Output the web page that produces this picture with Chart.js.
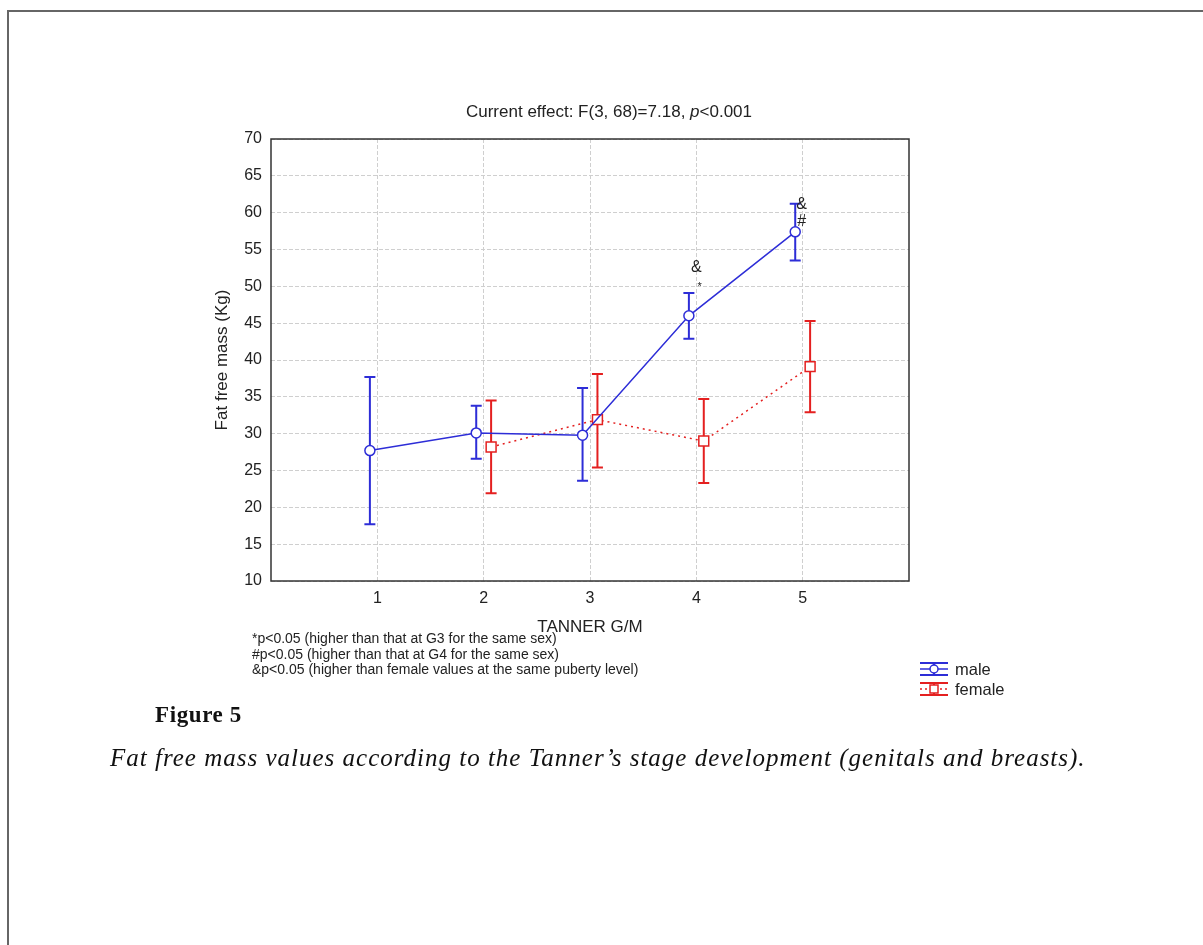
<!DOCTYPE html>
<html>
<head>
<meta charset="utf-8">
<script src="https://cdn.jsdelivr.net/npm/chart.js@4"></script>
<style>
  html, body { margin: 0; padding: 0; background: #fff; }
  body { width: 1203px; height: 945px; position: relative; overflow: hidden; }
  #frame { position: absolute; left: 7px; top: 10px; width: 1200px; height: 940px;
           border-top: 2px solid #666; border-left: 2px solid #666; }
  #chart { position: absolute; left: 0; top: 0; }
  .txt { position: absolute; font-family: "Liberation Sans", Arial, sans-serif; color: #222; white-space: nowrap; }
  #title { left: 0; width: 1218px; top: 102px; text-align: center; font-size: 17px; }
  #notes { left: 252px; top: 631px; font-size: 14px; line-height: 15.5px; }
  #figlabel { position: absolute; left: 155px; top: 702px; font-family: "Liberation Serif", serif;
              font-weight: bold; font-size: 23px; letter-spacing: 0.6px; color: #111; }
  #caption { position: absolute; left: 110px; top: 744px; font-family: "Liberation Serif", serif;
             font-style: italic; font-size: 25px; letter-spacing: 1px; color: #111; white-space: nowrap; }
</style>
</head>
<body>
<div id="frame"></div>
<canvas id="chart" width="1203" height="945"></canvas>
<div class="txt" id="title">Current effect: F(3, 68)=7.18, <i>p</i>&lt;0.001</div>
<div class="txt" id="notes">*p&lt;0.05 (higher than that at G3 for the same sex)<br>#p&lt;0.05 (higher than that at G4 for the same sex)<br>&amp;p&lt;0.05 (higher than female values at the same puberty level)</div>
<div id="figlabel">Figure 5</div>
<div id="caption">Fat free mass values according to the Tanner’s stage development (genitals and breasts).</div>
<script>
// Tanner stages
const stages = [1, 2, 3, 4, 5];
const femaleStages = [2, 3, 4, 5];

// male: mean and error bar limits
const maleMean = [27.7, 30.1, 29.8, 46.0, 57.4];
const maleUpper = [37.7, 33.8, 36.2, 49.1, 61.2];
const maleLower = [17.7, 26.6, 23.6, 42.9, 53.5];

// female
const femaleMean = [28.2, 31.9, 29.0, 39.1];
const femaleUpper = [34.5, 38.1, 34.7, 45.3];
const femaleLower = [21.9, 25.4, 23.3, 32.9];

const yTicks = [10, 15, 20, 25, 30, 35, 40, 45, 50, 55, 60, 65, 70];

// significance marks
const marks = [
  { x: 4.0, y: 52.6, text: "&", size: 16 },
  { x: 4.03, y: 49.9, text: "*", size: 11 },
  { x: 4.99, y: 61.1, text: "&", size: 16 },
  { x: 4.99, y: 58.8, text: "#", size: 16 }
];

const BLUE = "rgb(45,45,215)";
const RED = "rgb(228,32,32)";
const offset = 0.07;

const maleData = stages.map((s, i) => ({ x: s - offset, y: maleMean[i] }));
const femaleData = femaleStages.map((s, i) => ({ x: s + offset, y: femaleMean[i] }));

const errorBars = {
  id: "errorBars",
  beforeDatasetsDraw(chart) {
    const ctx = chart.ctx;
    const y = chart.scales.y;
    const limits = [[maleUpper, maleLower], [femaleUpper, femaleLower]];
    chart.data.datasets.forEach((ds, d) => {
      const meta = chart.getDatasetMeta(d);
      ctx.save();
      ctx.strokeStyle = ds.borderColor;
      ctx.lineWidth = 2;
      meta.data.forEach((pt, i) => {
        const top = y.getPixelForValue(limits[d][0][i]);
        const bot = y.getPixelForValue(limits[d][1][i]);
        ctx.beginPath();
        ctx.moveTo(pt.x, top); ctx.lineTo(pt.x, bot);
        ctx.moveTo(pt.x - 5.5, top); ctx.lineTo(pt.x + 5.5, top);
        ctx.moveTo(pt.x - 5.5, bot); ctx.lineTo(pt.x + 5.5, bot);
        ctx.stroke();
      });
      ctx.restore();
    });
  },
  afterDraw(chart) {
    const ctx = chart.ctx;
    const a = chart.chartArea;
    ctx.save();
    // plot frame
    ctx.strokeStyle = "#333";
    ctx.lineWidth = 1.5;
    ctx.strokeRect(a.left, a.top, a.right - a.left, a.bottom - a.top);
    // significance marks
    ctx.fillStyle = "#222";
    ctx.textAlign = "center";
    ctx.textBaseline = "middle";
    marks.forEach(m => {
      ctx.font = m.size + "px 'Liberation Sans', Arial";
      ctx.fillText(m.text, chart.scales.x.getPixelForValue(m.x), chart.scales.y.getPixelForValue(m.y));
    });
    // legend
    const items = [
      { label: "male", color: BLUE, dash: [], style: "circle", y: 669 },
      { label: "female", color: RED, dash: [2, 3], style: "rect", y: 689 }
    ];
    items.forEach(it => {
      const x0 = 920, x1 = 948, cx = 934;
      ctx.strokeStyle = it.color;
      ctx.lineWidth = 2;
      ctx.setLineDash([]);
      ctx.beginPath();
      ctx.moveTo(x0, it.y - 6); ctx.lineTo(x1, it.y - 6);
      ctx.moveTo(x0, it.y + 6); ctx.lineTo(x1, it.y + 6);
      ctx.moveTo(cx, it.y - 6); ctx.lineTo(cx, it.y + 6);
      ctx.stroke();
      ctx.lineWidth = 1.5;
      ctx.setLineDash(it.dash);
      ctx.beginPath();
      ctx.moveTo(x0, it.y); ctx.lineTo(x1, it.y);
      ctx.stroke();
      ctx.setLineDash([]);
      ctx.fillStyle = "#fff";
      ctx.beginPath();
      if (it.style === "circle") ctx.arc(cx, it.y, 4, 0, Math.PI * 2);
      else ctx.rect(cx - 4, it.y - 4, 8, 8);
      ctx.fill();
      ctx.stroke();
      ctx.fillStyle = "#222";
      ctx.textAlign = "left";
      ctx.font = "16.5px 'Liberation Sans', Arial";
      ctx.fillText(it.label, 955, it.y + 1);
    });
    ctx.restore();
  }
};

new Chart(document.getElementById("chart"), {
  type: "scatter",
  data: {
    datasets: [
      {
        label: "male",
        data: maleData,
        showLine: true,
        borderColor: BLUE,
        borderWidth: 1.5,
        pointStyle: "circle",
        pointRadius: 5,
        pointBorderWidth: 1.5,
        pointBackgroundColor: "#fff",
        pointBorderColor: BLUE
      },
      {
        label: "female",
        data: femaleData,
        showLine: true,
        borderColor: RED,
        borderWidth: 1.5,
        borderDash: [2, 4],
        pointStyle: "rect",
        pointRadius: 7,
        pointBorderWidth: 1.5,
        pointBackgroundColor: "#fff",
        pointBorderColor: RED
      }
    ]
  },
  options: {
    responsive: false,
    animation: false,
    devicePixelRatio: 1,
    layout: { padding: { left: 200, top: 139, right: 294, bottom: 300 } },
    plugins: { legend: { display: false }, tooltip: { enabled: false } },
    scales: {
      x: {
        type: "linear",
        min: 0,
        max: 6,
        afterBuildTicks: s => { s.ticks = stages.map(v => ({ value: v })); },
        afterFit: s => { s.height = 64; },
        grid: { color: "#cfcfcf", lineWidth: 1, drawTicks: false },
        border: { display: false, dash: [4, 2] },
        ticks: { padding: 8, color: "#222", font: { family: "'Liberation Sans', Arial", size: 16 } },
        title: { display: true, text: "TANNER G/M", color: "#222",
                 font: { family: "'Liberation Sans', Arial", size: 17 }, padding: { top: 0, bottom: 7 } }
      },
      y: {
        min: 10,
        max: 70,
        afterBuildTicks: s => { s.ticks = yTicks.map(v => ({ value: v })); },
        afterFit: s => { s.width = 71; },
        grid: { color: "#cfcfcf", lineWidth: 1, drawTicks: false },
        border: { display: false, dash: [4, 2] },
        ticks: { padding: 9, color: "#222", font: { family: "'Liberation Sans', Arial", size: 16 } },
        title: { display: true, text: "Fat free mass (Kg)", color: "#222",
                 font: { family: "'Liberation Sans', Arial", size: 17 }, padding: { top: 12, bottom: 0 } }
      }
    }
  },
  plugins: [errorBars]
});
</script>
</body>
</html>
